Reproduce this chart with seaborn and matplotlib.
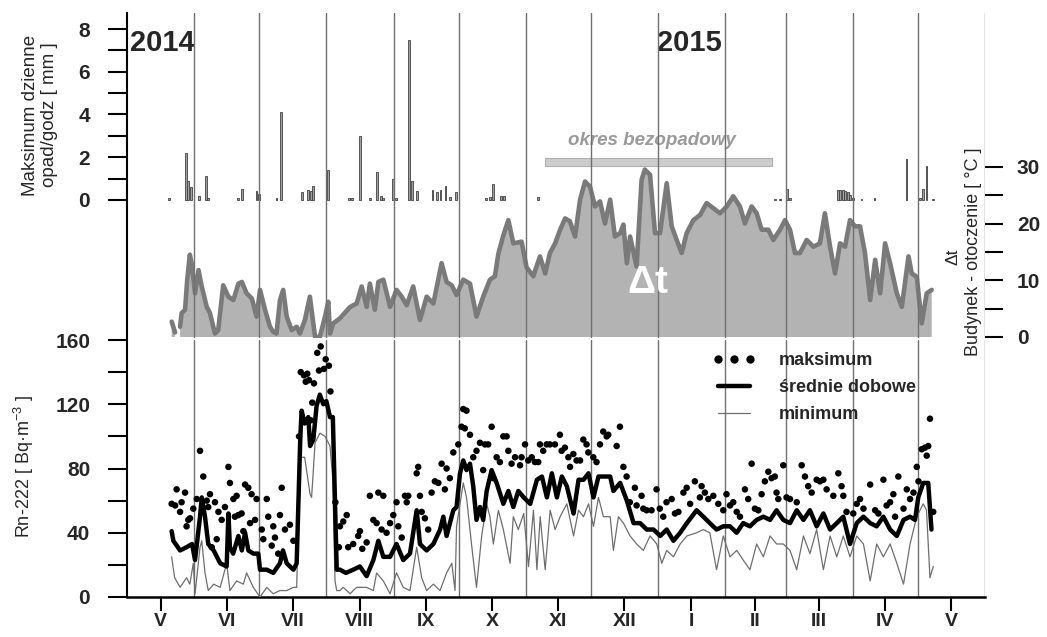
import numpy as np
import pandas as pd
import matplotlib
matplotlib.use("Agg")
import matplotlib.pyplot as plt
import seaborn as sns
from matplotlib.lines import Line2D

# ---------------- data ----------------
month_labels = ['V', 'VI', 'VII', 'VIII', 'IX', 'X', 'XI', 'XII', 'I', 'II', 'III', 'IV', 'V']
month_lengths = [31, 30, 31, 31, 30, 31, 30, 31, 31, 28, 31, 30, 31]   # May 2014 .. May 2015

# daily max precipitation [mm]  (day counted from 1 May 2014, value)
precip = [(19.5, 0.1), (27.1, 2.2), (28.3, 0.9), (29.4, 0.6), (33.4, 0.2), (36.5, 1.1), (37.5, 0.1),
          (51.4, 0.1), (53.2, 0.5), (59.8, 0.4), (61.0, 0.3), (69.0, 0.1), (71.1, 4.1), (80.6, 0.35),
          (83.7, 0.45), (84.9, 0.4), (86.0, 0.65), (92.6, 1.4), (102.5, 0.1), (104.0, 0.1), (107.5, 3.0),
          (112.0, 0.1), (115.5, 1.3), (117.1, 0.2), (118.3, 0.1), (122.9, 1.0), (124.0, 0.1), (130.3, 7.5),
          (131.4, 0.9), (133.7, 0.4), (141.0, 0.45), (143.2, 0.35), (144.7, 0.45), (147.0, 0.65),
          (149.0, 0.15), (152.0, 0.35), (165.6, 0.1), (167.5, 0.15), (168.9, 0.75), (172.8, 0.2),
          (173.9, 0.2), (189.8, 0.15), (299.0, 0.05), (301.3, 0.05), (304.7, 0.5), (305.9, 0.1),
          (328.0, 0.45), (329.2, 0.45), (330.3, 0.45), (331.5, 0.4), (332.6, 0.35), (333.7, 0.25),
          (334.9, 0.1), (339.0, 0.05), (345.0, 0.1), (359.8, 1.9), (366.0, 0.1), (367.5, 0.5),
          (369.0, 1.6), (372.0, 0.05)]

# temperature difference building - surroundings [deg C]
delta_t = [(20.6, 2.7), (22.2, 0.8), (23.3, np.nan), (24.5, 1.8), (25.2, 4.2), (26.8, 4.8), (27.8, 10.1),
           (29.0, 14.5), (29.8, 13.0), (31.4, 7.7), (33.0, 11.8), (34.5, 8.9), (36.8, 5.3), (38.3, 4.2),
           (40.6, 0.6), (42.1, 1.2), (44.4, 9.1), (46.8, 7.1), (49.1, 6.5), (51.4, 9.4), (53.0, 9.7),
           (55.2, 7.7), (57.6, 6.8), (59.8, 3.6), (61.4, 8.3), (63.7, 4.8), (66.0, 1.8), (67.5, 0.9),
           (69.0, 0.6), (70.6, 6.5), (72.1, 8.3), (73.7, 3.6), (76.0, 1.2), (78.3, 1.8), (79.8, 0.6),
           (82.1, 3.0), (84.4, 7.1), (86.0, 2.4), (86.8, 0.0), (89.0, 0.0), (91.4, 3.6), (92.9, 6.2),
           (93.7, 0.6), (95.2, 2.4), (98.3, 3.3), (103.0, 5.3), (106.0, 5.9), (108.3, 8.9), (110.6, 5.3),
           (112.1, 9.4), (114.4, 4.8), (116.0, 9.7), (118.3, 10.1), (121.4, 5.3), (124.4, 8.3),
           (126.8, 7.1), (129.1, 5.6), (132.1, 8.9), (135.2, 3.0), (138.3, 7.1), (141.4, 5.9),
           (145.2, 13.0), (147.5, 9.7), (149.9, 9.1), (152.1, 7.4), (155.2, 10.1), (158.3, 9.4),
           (161.3, 3.6), (164.4, 7.1), (167.5, 10.1), (169.8, 10.7), (171.4, 14.7), (173.7, 17.9),
           (176.0, 20.6), (178.3, 16.5), (182.1, 16.8), (184.4, 12.3), (187.5, 10.7), (190.6, 14.2),
           (193.0, 11.2), (195.2, 14.8), (197.6, 16.5), (199.9, 18.9), (202.2, 20.9), (204.4, 20.4),
           (206.8, 17.7), (209.1, 24.2), (211.4, 27.4), (213.7, 26.5), (216.0, 23.0), (218.3, 23.9),
           (220.6, 20.0), (223.0, 24.2), (225.2, 17.7), (227.6, 18.3), (229.1, 19.8), (230.7, 13.0),
           (232.2, 17.7), (235.2, 12.4), (237.5, 27.7), (239.0, 29.5), (241.4, 28.6), (243.7, 18.3),
           (246.0, 18.3), (249.1, 27.1), (251.4, 19.5), (253.7, 17.1), (256.0, 14.8), (258.3, 18.3),
           (261.4, 20.6), (264.5, 21.5), (267.5, 23.6), (270.6, 22.7), (273.7, 21.8), (276.8, 23.0),
           (279.8, 24.8), (282.9, 23.0), (285.2, 20.0), (288.3, 23.0), (290.6, 21.8), (292.9, 18.9),
           (296.0, 18.9), (298.3, 17.1), (301.4, 18.9), (303.7, 20.6), (306.0, 18.9), (308.3, 14.8),
           (310.6, 14.8), (313.7, 17.1), (316.8, 15.9), (319.8, 16.5), (322.1, 21.8), (324.5, 15.9),
           (326.8, 11.2), (329.1, 16.5), (331.4, 15.9), (333.7, 20.6), (336.0, 19.5), (338.3, 19.5),
           (340.6, 14.8), (343.0, 6.5), (345.3, 13.6), (347.6, 7.7), (349.9, 16.5), (352.2, 13.0),
           (355.3, 7.7), (357.6, 5.3), (360.7, 14.2), (362.2, 11.2), (364.5, 10.6), (366.8, 2.4),
           (369.1, 7.7), (371.4, 8.3)]

# Rn-222 daily mean [Bq/m3]
rn_mean = [(20.6, 41), (21.4, 35), (24.5, 29), (27.5, 31), (30.0, 33), (31.4, 23), (33.7, 50), (34.5, 62),
           (36.0, 50), (37.5, 33), (40.0, 29), (43.0, 21), (46.0, 19), (46.8, 52), (47.5, 31), (49.0, 27),
           (51.4, 38), (53.0, 29), (54.5, 40), (56.0, 29), (58.3, 27), (60.6, 27), (61.4, 17), (64.5, 17),
           (67.5, 15), (70.6, 21), (72.0, 29), (73.7, 21), (76.8, 17), (78.3, 21), (80.0, 100), (80.6, 116),
           (82.0, 108), (83.7, 112), (84.5, 94), (86.0, 98), (87.5, 119), (89.0, 126), (90.6, 120),
           (92.0, 122), (93.7, 112), (95.0, 112), (96.0, 60), (96.8, 17), (98.3, 17), (101.0, 15),
           (104.4, 17), (107.5, 19), (110.6, 13), (113.7, 23), (116.0, 35), (118.3, 25), (121.4, 25),
           (124.4, 33), (127.5, 23), (130.6, 27), (133.7, 54), (135.2, 33), (138.3, 29), (141.4, 33),
           (144.5, 42), (146.0, 50), (147.5, 38), (150.6, 54), (152.1, 56), (153.7, 77), (155.2, 85),
           (156.7, 79), (158.3, 83), (159.8, 69), (161.3, 48), (162.9, 56), (164.4, 48), (166.0, 66),
           (168.3, 79), (170.6, 71), (173.7, 58), (176.0, 66), (178.3, 56), (180.6, 66), (183.1, 62),
           (186.1, 58), (189.2, 73), (191.5, 75), (193.8, 62), (196.1, 77), (198.4, 62), (200.7, 75),
           (203.0, 69), (206.1, 52), (208.4, 73), (210.7, 73), (213.0, 77), (215.3, 62), (217.6, 75),
           (219.9, 75), (223.0, 75), (224.5, 66), (227.6, 71), (230.7, 60), (233.8, 46), (236.8, 46),
           (239.9, 42), (243.0, 42), (246.1, 38), (249.1, 42), (252.2, 35), (255.3, 40), (258.4, 46),
           (262.9, 54), (266.0, 50), (269.0, 46), (272.1, 42), (275.2, 44), (278.3, 44), (281.4, 40),
           (284.4, 46), (287.5, 44), (290.6, 48), (293.7, 50), (296.8, 48), (299.8, 54), (302.9, 48),
           (306.0, 46), (309.1, 54), (312.2, 48), (315.2, 54), (318.3, 44), (321.4, 52), (324.5, 42),
           (327.6, 46), (330.6, 50), (333.7, 33), (336.8, 46), (339.9, 50), (343.0, 46), (346.0, 44),
           (349.1, 50), (352.2, 42), (355.3, 38), (358.4, 48), (361.4, 50), (363.7, 48), (365.2, 62),
           (367.5, 71), (369.8, 71), (371.3, 42)]

# Rn-222 daily minimum
rn_min = [(20.6, 25), (22.0, 12), (24.5, 6), (27.5, 12), (29.0, 8), (30.6, 21), (31.4, 2), (33.7, 31),
          (34.5, 35), (36.0, 15), (37.5, 4), (40.0, 8), (43.0, 6), (46.0, 21), (47.5, 4), (50.6, 10),
          (53.7, 8), (55.2, 15), (58.3, 6), (61.4, 0), (64.5, 6), (67.5, 2), (70.6, 4), (73.7, 4),
          (76.8, 6), (78.3, 6), (80.0, 87), (82.0, 87), (84.5, 64), (85.2, 62), (86.8, 96), (89.0, 102),
          (91.4, 100), (93.7, 94), (95.0, 73), (96.0, 10), (96.8, 4), (98.3, 4), (99.8, 6), (103.0, 2),
          (104.4, 4), (106.0, 6), (110.6, 6), (113.7, 4), (115.2, 15), (118.3, 10), (121.4, 2),
          (124.4, 15), (127.5, 6), (130.6, 4), (133.7, 31), (136.0, 12), (138.3, 4), (141.4, 8),
          (144.5, 4), (147.5, 15), (149.9, 21), (151.4, 4), (152.1, 44), (153.7, 58), (155.2, 71),
          (156.7, 62), (159.0, 33), (161.3, 6), (163.7, 38), (166.0, 58), (167.5, 50), (169.1, 33),
          (171.4, 54), (173.7, 42), (176.8, 21), (178.3, 50), (180.6, 42), (183.1, 52), (185.3, 19),
          (187.6, 54), (189.2, 17), (190.7, 50), (193.0, 17), (195.3, 54), (197.6, 42), (199.9, 50),
          (203.0, 58), (206.1, 38), (208.4, 54), (210.7, 50), (213.0, 58), (215.3, 44), (217.6, 62),
          (219.9, 50), (223.0, 50), (224.5, 29), (226.8, 50), (229.1, 46), (232.2, 38), (235.2, 33),
          (238.3, 29), (241.4, 38), (244.5, 33), (246.8, 21), (249.1, 29), (252.2, 25), (255.3, 33),
          (258.4, 38), (262.9, 40), (266.0, 42), (269.0, 40), (272.1, 17), (275.2, 38), (278.3, 25),
          (281.4, 29), (284.4, 23), (287.5, 17), (290.6, 33), (293.7, 25), (296.8, 38), (299.8, 33),
          (302.9, 33), (306.0, 29), (309.1, 17), (312.2, 38), (315.2, 27), (318.3, 42), (321.4, 17),
          (324.5, 38), (327.6, 25), (330.6, 38), (333.7, 25), (336.8, 38), (339.9, 33), (343.0, 10),
          (346.0, 33), (349.1, 25), (352.2, 33), (355.3, 21), (358.4, 8), (361.4, 33), (364.5, 50),
          (367.5, 58), (369.0, 54), (370.6, 12), (372.1, 19)]

# Rn-222 daily maximum
rn_max = [(20.6, 58), (22.2, 57), (22.9, 67), (24.5, 53), (25.2, 59), (26.8, 65), (27.5, 44), (28.3, 48),
          (29.1, 49), (30.6, 55), (32.2, 61), (33.7, 91), (35.2, 75), (36.8, 60), (37.5, 56), (38.3, 64),
          (39.1, 31), (40.6, 59), (41.4, 36), (42.2, 53), (43.7, 48), (45.2, 56), (46.8, 81), (47.5, 71),
          (49.1, 61), (49.8, 50), (50.6, 63), (51.4, 51), (52.9, 52), (53.7, 41), (54.5, 70), (56.0, 68),
          (56.8, 46), (57.5, 64), (59.1, 48), (59.8, 61), (62.2, 42), (62.9, 36), (64.5, 61), (65.2, 50),
          (66.8, 32), (67.5, 44), (68.3, 37), (69.8, 27), (70.6, 51), (71.4, 68), (72.9, 42), (75.2, 45),
          (76.8, 35), (79.4, 100), (80.2, 140), (81.7, 138), (82.5, 134), (83.2, 139), (84.0, 135),
          (84.8, 110), (85.5, 121), (86.3, 133), (87.8, 152), (88.6, 141), (89.4, 156), (90.9, 142),
          (91.7, 148), (93.2, 144), (93.9, 128), (96.2, 59), (97.8, 31), (98.3, 44), (99.8, 47),
          (101.4, 51), (102.1, 31), (104.4, 33), (106.7, 38), (107.5, 41), (108.6, 30), (110.6, 34),
          (112.1, 63), (113.7, 48), (115.2, 46), (116.0, 65), (117.5, 42), (118.3, 63), (119.8, 40),
          (121.4, 46), (122.9, 51), (124.4, 59), (125.2, 44), (126.8, 37), (128.3, 63), (129.1, 59),
          (129.8, 63), (133.7, 77), (134.4, 81), (135.2, 63), (136.0, 53), (137.5, 49), (139.0, 42),
          (140.6, 65), (142.1, 72), (143.7, 71), (145.2, 83), (146.7, 67), (147.5, 80), (149.0, 74),
          (150.6, 90), (152.9, 95), (154.4, 106), (155.2, 117), (155.9, 105), (156.7, 116), (158.3, 101),
          (159.8, 87), (161.3, 91), (162.9, 96), (164.4, 79), (165.2, 95), (166.7, 95), (168.3, 106),
          (169.0, 74), (170.6, 87), (172.1, 84), (173.7, 100), (175.2, 100), (176.0, 91), (177.5, 83),
          (179.1, 87), (181.4, 82), (182.1, 87), (183.7, 95), (185.2, 85), (186.8, 87), (188.3, 84),
          (189.8, 84), (190.6, 95), (192.1, 91), (193.7, 95), (195.2, 95), (197.5, 95), (199.8, 101),
          (200.6, 91), (202.1, 93), (203.7, 87), (204.5, 81), (206.0, 89), (207.5, 85), (209.1, 85),
          (210.6, 98), (212.1, 95), (212.9, 90), (215.2, 87), (216.7, 84), (218.3, 95), (219.8, 103),
          (221.4, 100), (222.1, 101), (226.0, 94), (227.5, 106), (229.1, 81), (230.6, 75), (232.1, 59),
          (234.4, 68), (235.2, 57), (237.5, 63), (238.3, 55), (239.8, 54), (242.1, 54), (244.4, 67),
          (245.9, 55), (247.5, 50), (249.0, 59), (251.4, 61), (252.9, 52), (254.5, 53), (256.8, 65),
          (258.3, 68), (259.9, 58), (262.1, 72), (264.4, 62), (265.2, 69), (266.7, 65), (268.3, 61),
          (270.6, 63), (272.9, 58), (275.2, 54), (276.7, 64), (278.3, 57), (279.8, 59), (281.4, 53),
          (282.9, 50), (285.2, 67), (286.7, 61), (288.3, 83), (289.8, 55), (291.4, 54), (292.9, 64),
          (294.4, 72), (296.0, 78), (297.5, 74), (299.0, 75), (299.8, 65), (300.6, 61), (302.9, 82),
          (304.4, 62), (306.0, 61), (309.1, 59), (311.4, 82), (312.9, 75), (314.4, 69), (316.0, 65),
          (318.3, 73), (319.8, 72), (321.4, 73), (322.9, 67), (326.0, 63), (328.3, 77), (329.8, 69),
          (330.6, 63), (332.1, 53), (335.2, 52), (336.8, 58), (338.3, 61), (339.9, 55), (343.0, 70),
          (345.3, 54), (346.8, 52), (349.1, 73), (350.6, 57), (352.2, 59), (353.7, 64), (354.5, 50),
          (356.0, 75), (358.4, 55), (359.9, 67), (361.4, 61), (363.0, 65), (364.5, 81), (365.3, 72),
          (366.8, 92), (368.3, 93), (369.1, 88), (369.8, 94), (370.6, 111), (372.1, 53)]

dry_period = (193.0, 297.6)   # "okres bezopadowy" start / end day

# ---------------- style ----------------
sns.set_style("ticks")
plt.rcParams['font.family'] = ['Liberation Sans', 'DejaVu Sans']
plt.rcParams['mathtext.default'] = 'regular'

W, H = 1047, 637
fig = plt.figure(figsize=(W / 100, H / 100), dpi=100)


def rect(x0, y0, x1, y1):
    return [x0 / W, 1 - y1 / H, (x1 - x0) / W, (y1 - y0) / H]


bounds = np.concatenate([[0], np.cumsum(month_lengths)])
mids = (bounds[:-1] + bounds[1:]) / 2
XMAX = bounds[-1]
GRID = '#707070'

df_pr = pd.DataFrame(precip, columns=['day', 'mm'])
df_dt = pd.DataFrame(delta_t, columns=['day', 'dt'])
df_mean = pd.DataFrame(rn_mean, columns=['day', 'rn'])
df_min = pd.DataFrame(rn_min, columns=['day', 'rn'])
df_max = pd.DataFrame(rn_max, columns=['day', 'rn'])

# ---------------- lower panel: Rn-222 ----------------
ax_rn = fig.add_axes(rect(127, 340, 985, 597))
for b in bounds[1:]:
    ax_rn.axvline(b, color=GRID, lw=1.0, zorder=1)
sns.lineplot(data=df_min, x='day', y='rn', ax=ax_rn, color='#6e6e6e', lw=0.9, zorder=3)
sns.lineplot(data=df_mean, x='day', y='rn', ax=ax_rn, color='black', lw=3.2, zorder=4)
sns.scatterplot(data=df_max, x='day', y='rn', ax=ax_rn, color='black', s=22, edgecolor='none',
                zorder=5)
ax_rn.set_xlim(0, XMAX)
ax_rn.set_ylim(0, 160)
ax_rn.set_xlabel('')
ax_rn.set_ylabel('')
ax_rn.set_yticks(np.arange(0, 161, 20))
ax_rn.set_yticklabels([str(v) if v % 40 == 0 else '' for v in range(0, 161, 20)],
                      fontsize=15, fontweight='bold')
ax_rn.set_xticks(mids)
ax_rn.set_xticklabels(month_labels, fontsize=14, fontweight='bold')
ax_rn.tick_params(axis='y', direction='out', length=13.5, width=1.5, pad=13, color='black')
ax_rn.tick_params(axis='x', direction='out', length=10, width=1.5, pad=1.5, color='black')
for s in ['top', 'right']:
    ax_rn.spines[s].set_visible(False)
ax_rn.spines['left'].set_linewidth(1.5)
ax_rn.spines['bottom'].set_linewidth(1.8)
ax_rn.spines['left'].set_color('black')
ax_rn.spines['bottom'].set_color('black')

handles = [Line2D([], [], marker='o', ls='none', color='black', markersize=5),
           Line2D([], [], color='black', lw=3.2),
           Line2D([], [], color='#6e6e6e', lw=0.9)]
ax_rn.legend(handles, ['maksimum', 'średnie dobowe', 'minimum'], loc='upper left',
             bbox_to_anchor=(0.682, 0.952), frameon=False, borderpad=0, borderaxespad=0,
             handlelength=2.4, handletextpad=1.3, labelspacing=0.55, numpoints=3,
             prop={'weight': 'bold', 'size': 13})

# ---------------- upper panel: precipitation + delta t ----------------
ax_pr = fig.add_axes(rect(127, 13, 985, 338))
ax_dt = ax_pr.twinx()

ax_pr.bar(df_pr['day'], df_pr['mm'], width=0.85, color='#a0a0a0', edgecolor='#404040', lw=0.6,
          zorder=3)
ax_pr.barh(y=1.775, width=dry_period[1] - dry_period[0], left=dry_period[0], height=0.37,
           color='#cdcdcd', edgecolor='#b0b0b0', lw=0.8, zorder=3)
ax_pr.text(242.3, 2.8, 'okres bezopadowy', ha='center', va='center', fontsize=13.5,
           fontweight='bold', style='italic', color='#9a9a9a')
ax_pr.text(1.4, 7.35, '2014', ha='left', va='center', fontsize=21, fontweight='bold')
ax_pr.text(244.6, 7.35, '2015', ha='left', va='center', fontsize=21, fontweight='bold')
ax_pr.set_xlim(0, XMAX)
ax_pr.set_ylim(-6.46, 8.75)
ax_pr.set_yticks(np.arange(0, 9, 1))
ax_pr.set_yticklabels([str(v) if v % 2 == 0 else '' for v in range(0, 9)], fontsize=15,
                      fontweight='bold')
ax_pr.set_xticks([])
ax_pr.tick_params(axis='y', direction='out', length=13.5, width=1.5, pad=13, color='black')
for s in ['top', 'right', 'bottom']:
    ax_pr.spines[s].set_visible(False)
ax_pr.spines['left'].set_linewidth(1.5)
ax_pr.spines['left'].set_color('black')

ax_dt.fill_between(df_dt['day'], 0, df_dt['dt'], color='#b3b3b3', lw=0, zorder=1)
ax_dt.plot(df_dt['day'], df_dt['dt'], color='#7a7a7a', lw=3.3, solid_joinstyle='round', zorder=2)
for b in bounds[1:]:
    ax_dt.axvline(b, color=GRID, lw=1.0, zorder=2.5)
ax_dt.text(240.4, 9.5, 'Δt', ha='center', va='center', fontsize=28, fontweight='bold',
           color='white', zorder=4)
ax_dt.set_xlim(0, XMAX)
ax_dt.set_ylim(-0.18, 57.1)
ax_dt.set_yticks(np.arange(0, 31, 5))
ax_dt.set_yticklabels([str(v) if v % 10 == 0 else '' for v in range(0, 31, 5)], fontsize=15,
                      fontweight='bold')
ax_dt.set_xticks([])
ax_dt.tick_params(axis='y', direction='out', length=13, width=1.5, pad=10, color='black')
for s in ['top', 'right', 'bottom', 'left']:
    ax_dt.spines[s].set_visible(False)
ax_dt.set_ylabel('')

# ---------------- axis titles ----------------
fig.text(31 / W, 1 - 115 / H, 'Maksimum dzienne', rotation=90, ha='center', va='center', fontsize=13.5)
fig.text(49 / W, 1 - 115 / H, 'opad/godz [ mm ]', rotation=90, ha='center', va='center', fontsize=13.5)
fig.text(24 / W, 1 - 467 / H, 'Rn-222 [ Bq·m$^{-3}$ ]', rotation=90, ha='center', va='center',
         fontsize=13)
fig.text(953 / W, 1 - 257 / H, 'Δt', rotation=90, ha='center', va='center', fontsize=12.5)
fig.text(973 / W, 1 - 252 / H, 'Budynek - otoczenie [ °C ]', rotation=90, ha='center', va='center',
         fontsize=13)

fig.savefig('out.png', dpi=100)
